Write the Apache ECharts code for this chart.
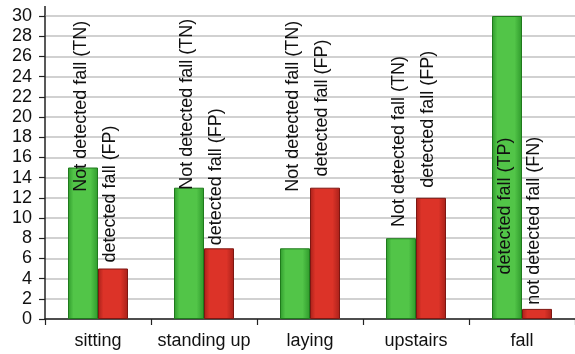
<!DOCTYPE html>
<html>
<head>
<meta charset="utf-8">
<script src="https://cdn.jsdelivr.net/npm/echarts@6/dist/echarts.min.js"></script>
<style>
  html, body { margin: 0; padding: 0; background: #fff; }
  #chart { width: 575px; height: 354px; }
</style>
</head>
<body>
<div id="chart"></div>
<script>
// Activities and detection counts
const categories = ['sitting', 'standing up', 'laying', 'upstairs', 'fall'];
const greenValues = [15, 13, 7, 8, 30];
const redValues = [5, 7, 13, 12, 1];
const greenLabels = ['Not detected fall (TN)', 'Not detected fall (TN)', 'Not detected fall (TN)', 'Not detected fall (TN)', 'detected fall (TP)'];
const redLabels = ['detected fall (FP)', 'detected fall (FP)', 'detected fall (FP)', 'detected fall (FP)', 'not detected fall (FN)'];
// Value level at which each rotated label text begins
const greenLabelFrom = [12.6, 12.8, 12.6, 9.1, 4.4];
const redLabelFrom = [5.6, 7.3, 14.1, 13.0, 1.4];
const yTicks = { min: 0, max: 30, interval: 2 };

const FONT = 'Liberation Sans, Arial, Helvetica, sans-serif';

function barGradient(dark, light) {
  return new echarts.graphic.LinearGradient(0, 0, 1, 0, [
    { offset: 0, color: dark },
    { offset: 0.18, color: light },
    { offset: 0.75, color: light },
    { offset: 1, color: dark }
  ]);
}

const chart = echarts.init(document.getElementById('chart'), null, { renderer: 'canvas' });

function labelStyle(offsetY, side) {
  return {
    show: true,
    position: 'top',
    distance: 0,
    rotate: 90,
    align: 'left',
    verticalAlign: 'middle',
    offset: [offsetY, side],
    color: '#111',
    fontFamily: FONT,
    fontSize: 18
  };
}

function buildData(values, texts, froms, unitPx, side) {
  return values.map((v, i) => ({
    value: v,
    label: Object.assign(labelStyle((froms[i] - v) * unitPx, side), {
      formatter: texts[i]
    })
  }));
}

const baseOption = {
  animation: false,
  backgroundColor: '#fff',
  grid: { left: 45, right: 0, top: 16, bottom: 35 },
  xAxis: {
    type: 'category',
    data: categories,
    boundaryGap: true,
    axisLine: { lineStyle: { color: '#222', width: 1.5 } },
    axisTick: { show: true, length: 6, lineStyle: { color: '#222', width: 1.2 } },
    axisLabel: { interval: 0, color: '#111', fontFamily: FONT, fontSize: 18, margin: 13 },
    splitLine: { show: false }
  },
  yAxis: {
    type: 'value',
    min: yTicks.min,
    max: yTicks.max,
    interval: yTicks.interval,
    axisLine: { show: true, lineStyle: { color: '#222', width: 1.5 } },
    axisTick: { show: true, length: 6, lineStyle: { color: '#222', width: 1.2 } },
    axisLabel: { color: '#111', fontFamily: FONT, fontSize: 18, margin: 13 },
    splitLine: { show: true, lineStyle: { color: '#c2c2c2', width: 1.6 } }
  },
  graphic: [{
    type: 'line',
    shape: { x1: 45, y1: 6, x2: 45, y2: 16 },
    style: { stroke: '#222', lineWidth: 1.5 }
  }],
  series: [
    {
      name: 'green',
      type: 'bar',
      barWidth: 30,
      barGap: '0%',
      data: greenValues,
      itemStyle: {
        color: barGradient('#2f9a2c', '#52c548'),
        borderColor: '#1f7a1c',
        borderWidth: 1
      }
    },
    {
      name: 'red',
      type: 'bar',
      barWidth: 30,
      barGap: '0%',
      data: redValues,
      itemStyle: {
        color: barGradient('#a8211a', '#dc3328'),
        borderColor: '#7e1712',
        borderWidth: 1
      }
    }
  ]
};

chart.setOption(baseOption);

// Pixel size of one value unit on the y axis
const unitPx = chart.convertToPixel({ yAxisIndex: 0 }, 0) - chart.convertToPixel({ yAxisIndex: 0 }, 1);

chart.setOption({
  series: [
    { data: buildData(greenValues, greenLabels, greenLabelFrom, unitPx, -2) },
    { data: buildData(redValues, redLabels, redLabelFrom, unitPx, -3) }
  ]
});
</script>
</body>
</html>
